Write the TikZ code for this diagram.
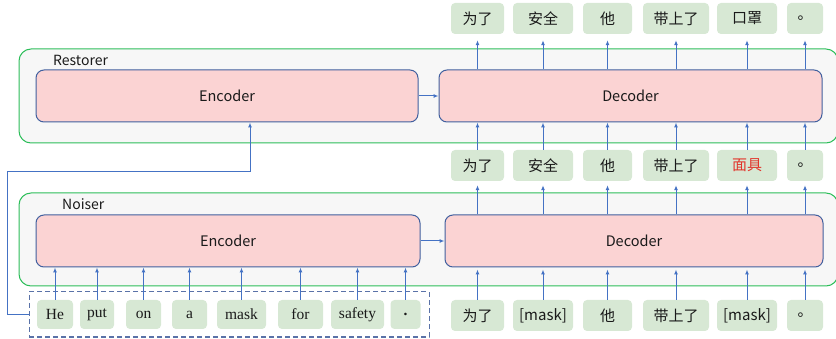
\documentclass[tikz,border=0pt]{standalone}
\usepackage{fontspec}
\setmainfont{Liberation Serif}
\newfontfamily\cjk{Noto Sans CJK SC}
\usetikzlibrary{arrows.meta}
\definecolor{arr}{HTML}{4472C4}
\definecolor{grn}{HTML}{2DBE5A}
\definecolor{gry}{HTML}{F7F7F7}
\definecolor{pnk}{HTML}{FBD3D3}
\definecolor{blu}{HTML}{41609F}
\definecolor{tokg}{HTML}{D7E8D4}
\definecolor{txt}{HTML}{1A1A1A}
\definecolor{redt}{HTML}{E2342A}
\definecolor{dsh}{HTML}{5A72A8}
\begin{document}
\begin{tikzpicture}[x=1pt,y=-1pt,
  outer/.style={draw=grn, fill=gry, rounded corners=12pt, line width=1pt, inner sep=0pt},
  coder/.style={draw=blu, fill=pnk, rounded corners=8pt, line width=1pt, inner sep=0pt, text=txt, font=\cjk\fontsize{14.5}{16}\selectfont},
  tok/.style={fill=tokg, rounded corners=4pt, minimum height=31pt, inner sep=0pt, text=txt, font=\cjk\fontsize{15}{17}\selectfont},
  etok/.style={tok, minimum height=29pt, font=\fontsize{15.5}{17}\selectfont},
  lbl/.style={inner sep=0pt, text=txt, font=\cjk\fontsize{14}{16}\selectfont},
  arrow/.style={draw=arr, line width=1pt, -{Latex[length=5pt,width=4pt]}},
]
\useasboundingbox (0,0) rectangle (836,339);

% outer boxes
\node[outer, minimum width=819pt, minimum height=94pt] (rest) at (428.5,96) {};
\node[outer, minimum width=819pt, minimum height=93pt] (nois) at (428.5,239.5) {};
\node[lbl, anchor=west] (restl) at (53,60) {Restorer};
\node[lbl, anchor=west] (noisl) at (62,204) {Noiser};

% encoders / decoders
\node[coder, minimum width=382pt, minimum height=52pt] (renc) at (227,96) {Encoder};
\node[coder, minimum width=383pt, minimum height=52pt] (rdec) at (630.5,96) {Decoder};
\node[coder, minimum width=384pt, minimum height=52pt] (nenc) at (228,241) {Encoder};
\node[coder, minimum width=378pt, minimum height=52pt] (ndec) at (634,241) {Decoder};
\draw[arrow] (renc.east) -- (rdec.west);
\draw[arrow] (nenc.east) -- (ndec.west);

% top output tokens
\node[tok, minimum width=53pt] (t1) at (477.5,18.5) {为了};
\node[tok, minimum width=60pt] (t2) at (543,18.5) {安全};
\node[tok, minimum width=49pt] (t3) at (607.5,18.5) {他};
\node[tok, minimum width=66pt] (t4) at (676,18.5) {带上了};
\node[tok, minimum width=60pt] (t5) at (747,18.5) {口罩};
\node[tok, minimum width=36pt] (t6) at (805,18.5) {。};

% middle tokens
\node[tok, minimum width=53pt] (m1) at (477.5,165.5) {为了};
\node[tok, minimum width=60pt] (m2) at (543,165.5) {安全};
\node[tok, minimum width=49pt] (m3) at (607.5,165.5) {他};
\node[tok, minimum width=66pt] (m4) at (676,165.5) {带上了};
\node[tok, minimum width=60pt, text=redt] (m5) at (747,165.5) {面具};
\node[tok, minimum width=36pt] (m6) at (805,165.5) {。};

% bottom chinese tokens
\node[tok, minimum width=53pt] (b1) at (477.5,315.5) {为了};
\node[tok, minimum width=60pt] (b2) at (543,315.5) {[mask]};
\node[tok, minimum width=49pt] (b3) at (607.5,315.5) {他};
\node[tok, minimum width=66pt] (b4) at (676,315.5) {带上了};
\node[tok, minimum width=60pt] (b5) at (747,315.5) {[mask]};
\node[tok, minimum width=36pt] (b6) at (805,315.5) {。};

% english tokens
\node[draw=dsh, dash pattern=on 5pt off 3pt, line width=1pt, minimum width=400pt, minimum height=45pt, inner sep=0pt] (inbox) at (229,314.5) {};
\node[etok, minimum width=36pt] (e1) at (55,314.5) {He};
\node[etok, minimum width=34pt] (e2) at (97,314.5) {put};
\node[etok, minimum width=35pt] (e3) at (143.5,314.5) {on};
\node[etok, minimum width=35pt] (e4) at (189.5,314.5) {a};
\node[etok, minimum width=49pt] (e5) at (241.5,314.5) {mask};
\node[etok, minimum width=45pt] (e6) at (300.5,314.5) {for};
\node[etok, minimum width=53pt] (e7) at (357.5,314.5) {safety};
\node[etok, minimum width=30pt] (e8) at (405.5,314.5) {\textbf{.}};

% english -> noiser encoder
\foreach \i in {1,...,8} {
  \draw[arrow] (e\i.north) -- (e\i.north |- nenc.south);
}
% chinese -> noiser decoder -> middle -> restorer decoder -> top
\foreach \i in {1,...,6} {
  \draw[arrow, shorten >=2pt] (b\i.north) -- (b\i.north |- ndec.south);
  \draw[arrow, shorten >=4pt] (m\i.south |- ndec.north) -- (m\i.south);
  \draw[arrow] (m\i.north) -- (m\i.north |- rdec.south);
  \draw[arrow, shorten >=6pt] (t\i.south |- rdec.north) -- (t\i.south);
}

% feedback path into restorer encoder
\coordinate (c1) at (7,314);
\coordinate (c2) at (250,172);
\draw[arrow] (inbox.west) -- (inbox.west -| c1) |- (c2) -- (c2 |- renc.south);
\end{tikzpicture}
\end{document}
